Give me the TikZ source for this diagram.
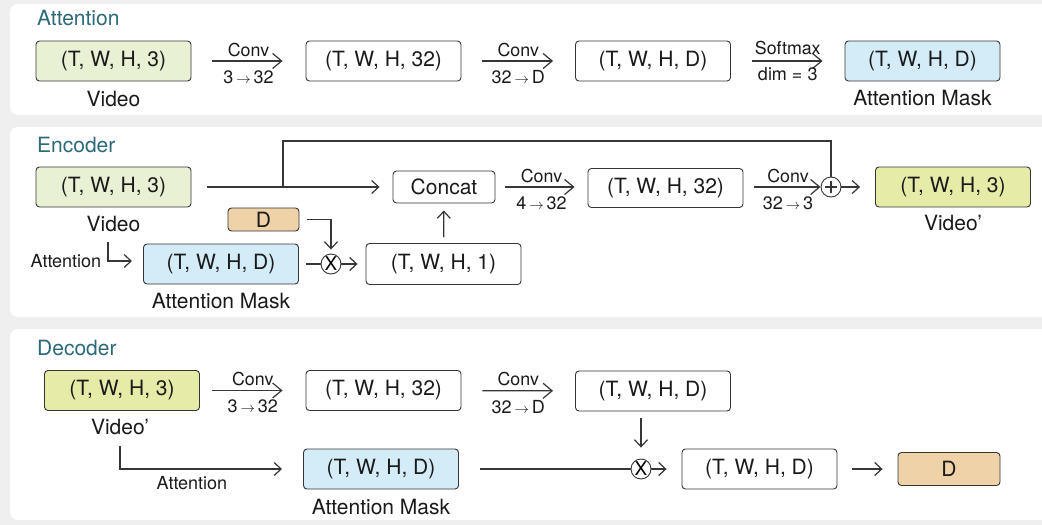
\documentclass[tikz,border=0pt]{standalone}
\usepackage{fontspec}
\setmainfont{TeX Gyre Heros}
\usetikzlibrary{arrows.meta}

\definecolor{bgc}{HTML}{EFEFEF}
\definecolor{lc}{HTML}{363636}
\definecolor{txt}{HTML}{1A1A1A}
\definecolor{ttl}{HTML}{2C6A78}
\definecolor{vidc}{HTML}{E9F1D5}
\definecolor{vidpc}{HTML}{E6ECA8}
\definecolor{maskc}{HTML}{D4ECF7}
\definecolor{dimc}{HTML}{EFD2A8}

\newcommand\fmain{\fontsize{21}{24}\selectfont}
\newcommand\flab{\fontsize{17.8}{20}\selectfont}
\newcommand\fsmall{\fontsize{18}{20}\selectfont}
\newcommand\ttlfont{\fontsize{21}{24}\selectfont}
\newcommand\smallto{{\fontsize{14}{14}\selectfont$\rightarrow$}}

\tikzset{
  panelbg/.style={fill=white, rounded corners=8pt, draw=none},
  tbox/.style={draw=lc, line width=0.9pt, rounded corners=3.5pt, minimum width=155pt,
    minimum height=40pt, inner sep=0pt, font=\fmain, text=txt},
  ttlsty/.style={anchor=west, font=\ttlfont, text=ttl, inner sep=0pt},
  lblsty/.style={font=\fmain, text=txt, inner sep=0pt},
  opn/.style={circle, draw=lc, line width=0.9pt, minimum size=20pt, inner sep=0pt, fill=white},
  lnsty/.style={draw=lc, line width=1.2pt},
  arr/.style={lnsty, -{Straight Barb[length=7pt,width=13pt,line width=1.2pt]}},
  carr/.style={lnsty, -{Straight Barb[length=9pt,width=15pt,line width=1.2pt]}},
  uplbl/.style={above=3pt, font=\flab, text=txt, inner sep=1pt},
  dnlbl/.style={below=8pt, font=\fsmall, text=txt, inner sep=1pt},
}

\begin{document}
\begin{tikzpicture}[x=1pt, y=-1pt]
\useasboundingbox (0,0) rectangle (1042,525);
\fill[bgc] (0,0) rectangle (1042,525);

% panels
\fill[panelbg] (10,4) rectangle (1056,115);
\fill[panelbg] (10,127) rectangle (1056,317);
\fill[panelbg] (10,329) rectangle (1056,520);

% ---------------- Attention ----------------
\node[ttlsty] (t1) at (37,18) {Attention};
\node[tbox, fill=vidc] (a1) at (113.5,61) {(T, W, H, 3)};
\node[lblsty] (a1l) at (113.5,99) {Video};
\node[tbox] (a2) at (383.5,61) {(T, W, H, 32)};
\node[tbox] (a3) at (653,61) {(T, W, H, D)};
\node[tbox, fill=maskc] (a4) at (922.5,61) {(T, W, H, D)};
\node[lblsty] (a4l) at (922.5,98) {Attention Mask};

\draw[carr, shorten <=21pt, shorten >=23pt] (a1) -- node[uplbl]{Conv} node[dnlbl]{3\,\smallto\,32} (a2);
\draw[carr, shorten <=21pt, shorten >=22pt] (a2) -- node[uplbl]{Conv} node[dnlbl]{32\,\smallto\,D} (a3);
\draw[carr, shorten <=21pt, shorten >=22pt] (a3) -- node[uplbl, yshift=2pt]{Softmax} node[dnlbl, yshift=3pt]{dim = 3} (a4);

% ---------------- Encoder ----------------
\node[ttlsty] (t2) at (37,145) {Encoder};
\node[tbox, fill=vidc] (e1) at (113.5,187) {(T, W, H, 3)};
\node[lblsty] (e1l) at (113.5,224) {Video};
\node[tbox, minimum width=102pt, minimum height=32pt] (cc) at (444,187) {Concat};
\node[tbox, minimum height=39pt] (e2) at (665.5,188) {(T, W, H, 32)};
\node[opn] (pl) at (831,187) {};
\draw[lnsty, line width=1.1pt] ([xshift=-6pt]pl.center) -- ([xshift=6pt]pl.center)
  ([yshift=-6pt]pl.center) -- ([yshift=6pt]pl.center);
\node[tbox, fill=vidpc] (e3) at (953,187) {(T, W, H, 3)};
\node[lblsty] (e3l) at (953,223) {Video'};

\node[tbox, fill=dimc, minimum width=71pt, minimum height=23pt] (d1) at (263.5,219.5) {D};
\node[tbox, fill=maskc] (m1) at (221,264) {(T, W, H, D)};
\node[lblsty] (m1l) at (221,301) {Attention Mask};
\node[opn] (mu1) at (331,264) {\fontsize{19}{19}\selectfont X};
\node[tbox, minimum height=41pt] (e4) at (443.5,264) {(T, W, H, 1)};

\coordinate (br) at (283,187);
\draw[arr, shorten <=16pt, shorten >=13pt] (e1) -- (cc);
\draw[lnsty] (br) -- ++(0,-46) -| (pl.north);
\draw[carr, shorten <=10pt, shorten >=13pt] (cc) -- node[uplbl]{Conv} node[dnlbl]{4\,\smallto\,32} (cc -| e2.west);
\draw[carr, shorten <=11pt] (cc -| e2.east) -- node[uplbl, xshift=6pt]{Conv} node[dnlbl, xshift=6pt]{32\,\smallto\,3} (pl);
\draw[arr, shorten >=15pt] (pl) -- (e3);

\draw[arr, shorten >=4pt] ([xshift=8pt]d1.east) -| (mu1.north);
\draw[lnsty, shorten <=7pt] (m1) -- (mu1);
\draw[arr, shorten >=8pt] (mu1) -- (e4);
\draw[arr, shorten <=6pt, shorten >=7pt] (e4) -- (cc);

\coordinate (h1) at (108,242);
\coordinate (h1e) at (132,261);
\draw[arr] (h1) |- (h1e);
\node[font=\fsmall, text=txt, inner sep=0pt] (h1l) at (66,261) {Attention};

% ---------------- Decoder ----------------
\node[ttlsty] (t3) at (37,348) {Decoder};
\node[tbox, fill=vidpc] (g1) at (122,390.5) {(T, W, H, 3)};
\node[lblsty] (g1l) at (120,427) {Video'};
\node[tbox] (g2) at (383.5,390.5) {(T, W, H, 32)};
\node[tbox] (g3) at (653,391) {(T, W, H, D)};
\node[tbox, fill=maskc] (m2) at (381,469) {(T, W, H, D)};
\node[lblsty] (m2l) at (381,507) {Attention Mask};
\node[opn] (mu2) at (641,469) {\fontsize{19}{19}\selectfont X};
\node[tbox] (g4) at (759.5,469) {(T, W, H, D)};
\node[tbox, fill=dimc, minimum width=102pt, minimum height=33pt] (d2) at (949,469) {D};

\draw[carr, shorten <=12pt, shorten >=23pt] (g1) -- node[uplbl]{Conv} node[dnlbl]{3\,\smallto\,32} (g2);
\draw[carr, shorten <=21pt, shorten >=22pt] (g2) -- node[uplbl]{Conv} node[dnlbl]{32\,\smallto\,D} (g3);
\draw[arr, shorten <=7pt, shorten >=11pt] (g3.south -| mu2) -- (mu2);

\coordinate (h2) at (120,446);
\coordinate (h2e) at (282,469);
\draw[arr] (h2) |- (h2e);
\node[font=\fsmall, text=txt, inner sep=0pt] (h2l) at (192,483) {Attention};

\draw[lnsty, shorten <=21pt] (m2) -- (mu2);
\draw[arr, shorten >=15pt] (mu2) -- (g4);
\draw[arr, shorten <=15pt, shorten >=15pt] (g4) -- (d2);
\end{tikzpicture}
\end{document}
